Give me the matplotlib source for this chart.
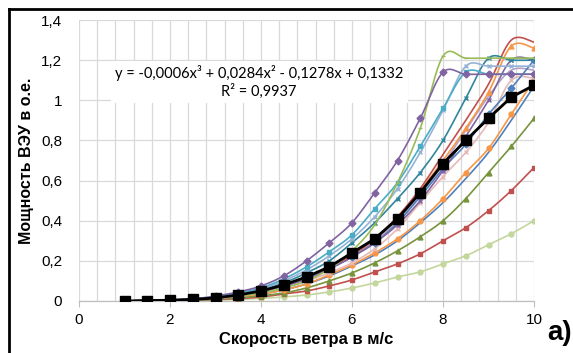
import numpy as np
import matplotlib
matplotlib.use("Agg")
import matplotlib.pyplot as plt
from matplotlib.lines import Line2D

# ---------------- data ----------------
wind_speed = [1, 1.5, 2, 2.5, 3, 3.5, 4, 4.5, 5, 5.5, 6, 6.5, 7, 7.5, 8, 8.5, 9, 9.5, 10]

s_purple     = [0, .002, .005, .01, .025, .045, .075, .125, .20, .29, .39, .54, .70, .91, 1.14, 1.13, 1.13, 1.13, 1.13]
s_green      = [0, .002, .004, .008, .015, .025, .04, .065, .10, .16, .25, .38, .59, .86, 1.22, 1.21, 1.21, 1.21, 1.21]
s_aqua_sq    = [0, .002, .005, .01, .02, .04, .065, .11, .17, .245, .33, .46, .59, .77, .96, 1.14, 1.13, 1.13, 1.13]
s_lightblue  = [0, .002, .005, .01, .02, .035, .06, .10, .155, .225, .31, .42, .56, .74, .95, 1.17, 1.17, 1.17, 1.17]
s_teal       = [0, .002, .004, .008, .016, .03, .055, .09, .14, .20, .29, .39, .51, .64, .80, 1.01, 1.21, 1.20, 1.20]
s_red        = [0, .002, .004, .008, .015, .028, .05, .08, .12, .17, .23, .31, .42, .56, .73, .90, 1.08, 1.30, 1.29]
s_orange_tri = [0, .002, .004, .008, .015, .028, .05, .08, .12, .17, .23, .31, .41, .55, .70, .86, 1.04, 1.27, 1.26]
s_purple2    = [0, .002, .004, .008, .015, .028, .048, .075, .11, .16, .22, .29, .38, .50, .65, .82, 1.00, 1.20, 1.20]
s_blue_dia   = [0, .002, .004, .008, .015, .028, .048, .075, .11, .16, .22, .29, .39, .52, .66, .78, .93, 1.06, 1.20]
s_pink       = [0, .002, .004, .007, .013, .025, .042, .065, .10, .14, .19, .26, .36, .49, .62, .74, .89, 1.10, 1.11]
s_lavender   = [0, .002, .004, .008, .015, .028, .048, .075, .11, .16, .22, .30, .40, .53, .68, .85, 1.02, 1.15, 1.15]
s_orange_cir = [0, .002, .004, .007, .012, .022, .035, .055, .085, .13, .18, .24, .31, .40, .51, .64, .76, .93, 1.10]
s_blue       = [0, .002, .004, .007, .012, .022, .035, .055, .085, .125, .175, .23, .30, .39, .49, .61, .74, .90, 1.07]
s_green_tri  = [0, .001, .003, .005, .009, .016, .026, .04, .065, .10, .14, .19, .25, .32, .40, .51, .64, .77, .91]
s_darkred_sq = [0, .001, .002, .004, .007, .012, .02, .035, .05, .075, .105, .145, .185, .235, .30, .365, .45, .55, .665]
s_lightgreen = [0, .001, .002, .003, .005, .008, .013, .02, .03, .045, .065, .09, .12, .145, .185, .225, .28, .335, .40]
s_average    = [0, .002, .004, .008, .015, .03, .05, .08, .12, .17, .24, .31, .41, .54, .685, .80, .91, 1.015, 1.075]

x_ticks = [0, 2, 4, 6, 8, 10]
x_tick_labels = ["0", "2", "4", "6", "8", "10"]
y_ticks = [0, 0.2, 0.4, 0.6, 0.8, 1.0, 1.2, 1.4]
y_tick_labels = ["0", "0,2", "0,4", "0,6", "0,8", "1", "1,2", "1,4"]

eq_line1 = "y = -0,0006x³ + 0,0284x² - 0,1278x + 0,1332"
eq_line2 = "R² = 0,9937"
x_label = "Скорость ветра в м/с"
y_label = "Мощность ВЭУ в о.е."
panel_label = "a)"

# ---------------- styles ----------------
series = [
    (s_lightgreen, "#C3D69B", "o"),
    (s_darkred_sq, "#C0504D", "s"),
    (s_green_tri, "#77933C", "^"),
    (s_blue, "#4F81BD", None),
    (s_orange_cir, "#F79646", "o"),
    (s_pink, "#E6B9B8", "x"),
    (s_lavender, "#B3A2C7", None),
    (s_blue_dia, "#4F81BD", "D"),
    (s_purple2, "#8064A2", "x"),
    (s_orange_tri, "#F79646", "^"),
    (s_red, "#C0504D", None),
    (s_teal, "#31859C", "x"),
    (s_lightblue, "#95B3D7", "x"),
    (s_aqua_sq, "#4BACC6", "s"),
    (s_green, "#9BBB59", "_"),
    (s_purple, "#8064A2", "D"),
]


def smooth(x, y, n=14):
    x = np.asarray(x, float)
    y = np.asarray(y, float)
    P = np.column_stack([x, y])
    out = [P[0]]
    t = np.linspace(0, 1, n)[1:]
    for i in range(len(P) - 1):
        p0 = P[i - 1] if i > 0 else P[i]
        p1 = P[i]
        p2 = P[i + 1]
        p3 = P[i + 2] if i + 2 < len(P) else P[i + 1]
        c1 = p1 + (p2 - p0) / 6.0
        c2 = p2 - (p3 - p1) / 6.0
        for tt in t:
            b = ((1 - tt) ** 3) * p1 + 3 * ((1 - tt) ** 2) * tt * c1 + 3 * (1 - tt) * tt ** 2 * c2 + tt ** 3 * p2
            out.append(b)
    out = np.array(out)
    return out[:, 0], out[:, 1]


fig = plt.figure(figsize=(5.73, 3.53), dpi=100)
ax = fig.add_axes([79 / 573, 1 - 301 / 353, 455 / 573, 281 / 353])

for vals, col, mk in series:
    sx, sy = smooth(wind_speed, vals)
    ax.plot(sx, sy, color=col, lw=1.2, zorder=3)
    if mk is not None:
        ax.plot(wind_speed, vals, ls="none", marker=mk, color=col, ms=3.5,
                mew=1.0, zorder=3)

ax.plot(wind_speed, s_average, color="black", lw=2.0, marker="s", ms=7, zorder=5)

ax.set_xlim(0, 10)
ax.set_ylim(0, 1.4)
ax.set_xticks(np.arange(0, 10.01, 0.4), minor=True)
ax.set_xticks(x_ticks)
ax.set_xticklabels(x_tick_labels)
ax.set_yticks(y_ticks)
ax.set_yticklabels(y_tick_labels)
ax.grid(True, which="both", axis="x", color="#D9D9D9", lw=0.9)
ax.grid(True, which="major", axis="y", color="#D9D9D9", lw=0.9)
ax.set_axisbelow(True)
for sp in ["top", "right", "left"]:
    ax.spines[sp].set_visible(False)
ax.spines["bottom"].set_color("#BFBFBF")
ax.spines["bottom"].set_linewidth(0.9)
ax.tick_params(axis="x", which="major", length=4, color="#BFBFBF", pad=5,
               labelsize=11)
ax.tick_params(axis="x", which="minor", length=0)
ax.tick_params(axis="y", length=0, pad=12, labelsize=11)
for lab in ax.get_xticklabels() + ax.get_yticklabels():
    lab.set_fontfamily("Liberation Sans")

ax.set_xlabel(x_label, fontsize=12, fontweight="bold", family="Liberation Sans", labelpad=3)
ax.set_ylabel(y_label, fontsize=11.5, fontweight="bold", family="Liberation Sans", labelpad=5)

# trendline equation box
ax.text(0.396, 0.779, eq_line1 + "\n" + eq_line2, transform=ax.transAxes,
        ha="center", va="center", fontsize=10.5, family="Lato",
        linespacing=1.25, zorder=6,
        bbox=dict(facecolor="white", edgecolor="none", pad=3))

fig.text(547 / 573, 1 - 333 / 353, panel_label, fontsize=20, fontweight="bold",
         family="Liberation Sans", ha="left", va="center")

# outer frame lines
fig.add_artist(Line2D([9 / 573, 9 / 573], [0, 1 - 9 / 353], color="black", lw=2,
                      transform=fig.transFigure))
fig.add_artist(Line2D([9 / 573, 1], [1 - 9 / 353, 1 - 9 / 353], color="black", lw=2,
                      transform=fig.transFigure))

fig.savefig("out.png", dpi=100)
